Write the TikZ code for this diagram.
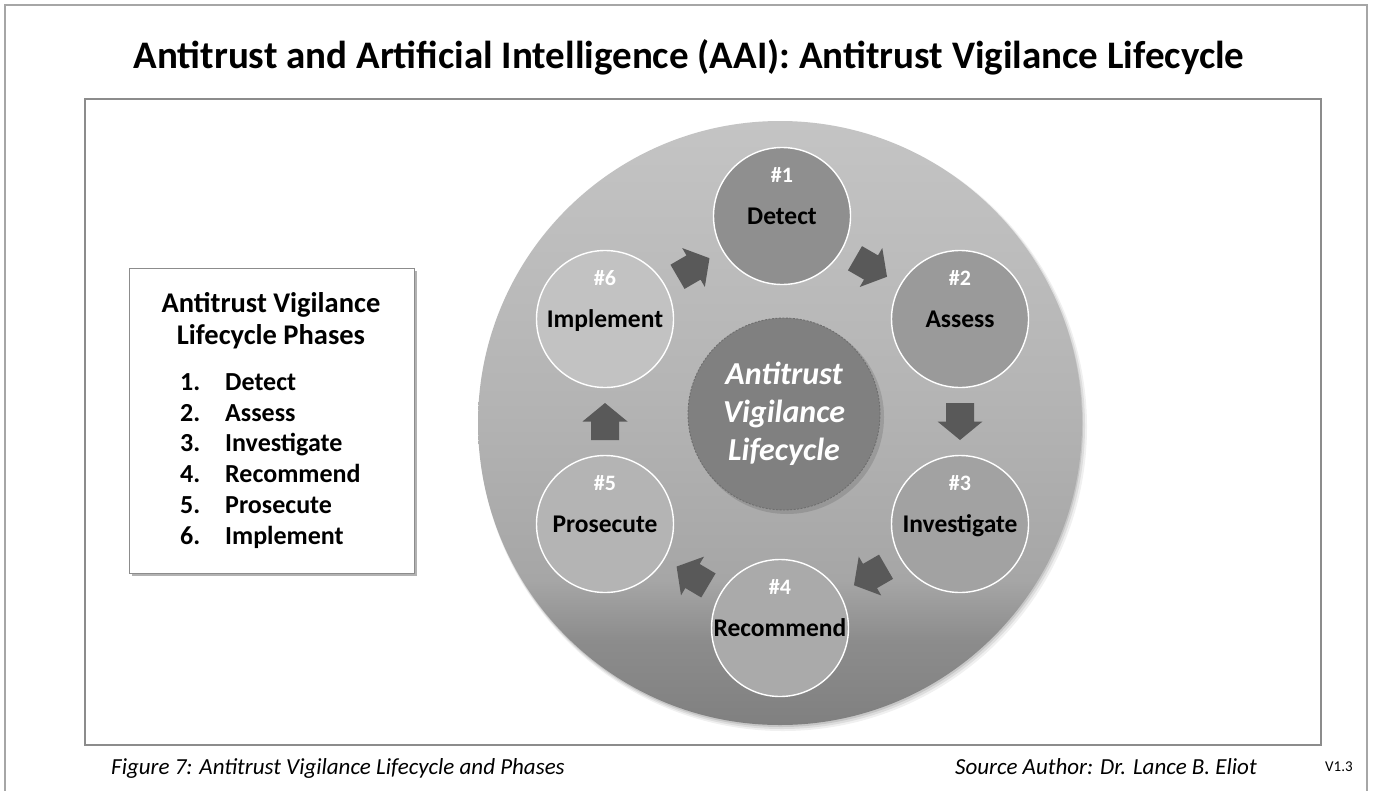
\documentclass[tikz,border=0pt]{standalone}
\usepackage{fontspec}
\setmainfont{Carlito}
\usetikzlibrary{shadows,calc}
\definecolor{outerframe}{HTML}{A6A6A6}
\definecolor{innerframe}{HTML}{8C8C8C}
\definecolor{sb0}{HTML}{808080}
\definecolor{sb1}{HTML}{8C8C8C}
\definecolor{sb2}{HTML}{A6A6A6}
\definecolor{sb3}{HTML}{B4B4B4}
\definecolor{sb4}{HTML}{C4C4C4}
\definecolor{hubgray}{HTML}{808080}
\definecolor{hubedge}{HTML}{6E6E6E}
\definecolor{arrowgray}{HTML}{595959}
\definecolor{pa}{HTML}{8F8F8F}
\definecolor{pb}{HTML}{9A9A9A}
\definecolor{pc}{HTML}{A2A2A2}
\definecolor{pd}{HTML}{AAAAAA}
\definecolor{pe}{HTML}{B4B4B4}
\definecolor{pf}{HTML}{C2C2C2}
\pgfdeclareverticalshading{bigshade}{100bp}{color(0bp)=(sb0); color(25bp)=(sb0); color(32bp)=(sb1); color(37bp)=(sb2); color(52bp)=(sb3); color(75bp)=(sb4); color(100bp)=(sb4)}
\tikzset{
  pics/flowarrow/.style={code={
    \fill[arrowgray] (-18.5,-14) -- (0,-14) -- (0,-22.5) -- (18.5,0) -- (0,22.5) -- (0,14) -- (-18.5,14) -- cycle;}}
}
\newcommand{\flowbetween}[2]{%
  \path let \p1=($(#2)-(#1)$) in ($(#1)!0.5!(#2)$) pic[rotate={atan2(\y1,\x1)}] {flowarrow};}
\begin{document}
\begin{tikzpicture}[x=1pt,y=-1pt,
  phase/.style={circle, minimum size=137, inner sep=0, outer sep=0, draw=white, line width=1.4,
    text=black, font=\bfseries\fontsize{25.5}{30}\selectfont, text height=16.4, text depth=0},
  phasenum/.style={text=white, font=\bfseries\fontsize{22}{26}\selectfont, inner sep=0, text height=14.2, text depth=0},
  listnum/.style={anchor=west, inner sep=0, font=\bfseries\fontsize{26}{30}\selectfont, text height=16.7, text depth=0},
  foot/.style={anchor=west, inner sep=0, font=\itshape\fontsize{23}{27}\selectfont, text height=14.8, text depth=0}
]
\useasboundingbox (0,0) rectangle (1375,790);
\fill[white] (0,0) rectangle (1375,790);
% frames
\draw[outerframe, line width=1.5] (5,805) -- (5,5) -- (1367,5) -- (1367,805);
\draw[innerframe, line width=1.2] (85,99) rectangle (1321,745);
% title
\node[inner sep=0, font=\bfseries\fontsize{39}{46}\selectfont, text height=25.1, text depth=0] (title) at (689,55.5)
  {Antitrust and Artificial Intelligence (AAI): Antitrust Vigilance Lifecycle};
% big circle with soft shadow
\fill[black, opacity=0.06] (783,427) circle[radius=304];
\fill[black, opacity=0.08] (782,426) circle[radius=303];
\fill[black, opacity=0.10] (781,425) circle[radius=302];
\node[circle, minimum size=604, inner sep=0, outer sep=0, shading=bigshade] (big) at (780,423) {};
% hub
\fill[black, opacity=0.12] (787,417) circle[radius=97];
\node[circle, minimum size=192, inner sep=0, fill=hubgray, draw=hubedge, line width=0.9,
  dash pattern=on 2pt off 1.5pt,
  align=center, text=white, font=\bfseries\itshape\fontsize{32}{38}\selectfont] (hub) at (784,414)
  {Antitrust\\Vigilance\\Lifecycle};
% phases
\node[phase, fill=pa] (c1) at (782,216) {Detect};
\node[phase, fill=pb] (c2) at (960,319) {Assess};
\node[phase, fill=pc] (c3) at (960,524) {Investigate};
\node[phase, fill=pd] (c4) at (780,628) {Recommend};
\node[phase, fill=pe] (c5) at (605,524) {Prosecute};
\node[phase, fill=pf] (c6) at (605,319) {Implement};
\node[phasenum] (n1) at ($(c1)+(0,-41)$) {\#1};
\node[phasenum] (n2) at ($(c2)+(0,-41)$) {\#2};
\node[phasenum] (n3) at ($(c3)+(0,-41)$) {\#3};
\node[phasenum] (n4) at ($(c4)+(0,-41)$) {\#4};
\node[phasenum] (n5) at ($(c5)+(0,-41)$) {\#5};
\node[phasenum] (n6) at ($(c6)+(0,-41)$) {\#6};
% flow arrows
\flowbetween{c1}{c2}
\flowbetween{c2}{c3}
\flowbetween{c3}{c4}
\flowbetween{c4}{c5}
\flowbetween{c5}{c6}
\flowbetween{c6}{c1}
% left box
\node[draw=innerframe, line width=1, fill=white, minimum width=285, minimum height=305, inner sep=0,
  drop shadow={shadow xshift=3pt, shadow yshift=-3pt, opacity=0.3, fill=black}] (box) at (271.5,420.5) {};
\node[align=center, inner sep=0, font=\bfseries\fontsize{28.5}{32}\selectfont] (boxtitle) at (271,321)
  {Antitrust Vigilance\\Lifecycle Phases};
\node[listnum] (l1n) at (180,382) {1.};
\node[listnum] (l1) at (225,382) {Detect};
\node[listnum] (l2n) at (180,412.8) {2.};
\node[listnum] (l2) at (225,412.8) {Assess};
\node[listnum] (l3n) at (180,443.6) {3.};
\node[listnum] (l3) at (225,443.6) {Investigate};
\node[listnum] (l4n) at (180,474.4) {4.};
\node[listnum] (l4) at (225,474.4) {Recommend};
\node[listnum] (l5n) at (180,505.2) {5.};
\node[listnum] (l5) at (225,505.2) {Prosecute};
\node[listnum] (l6n) at (180,536) {6.};
\node[listnum] (l6) at (225,536) {Implement};
% footer
\node[foot] (fig) at (111,767) {Figure 7: Antitrust Vigilance Lifecycle and Phases};
\node[foot] (src) at (955,767) {Source Author: Dr. Lance B. Eliot};
\node[anchor=west, inner sep=0, font=\fontsize{15}{18}\selectfont] (ver) at (1325,767) {V1.3};
\end{tikzpicture}
\end{document}
